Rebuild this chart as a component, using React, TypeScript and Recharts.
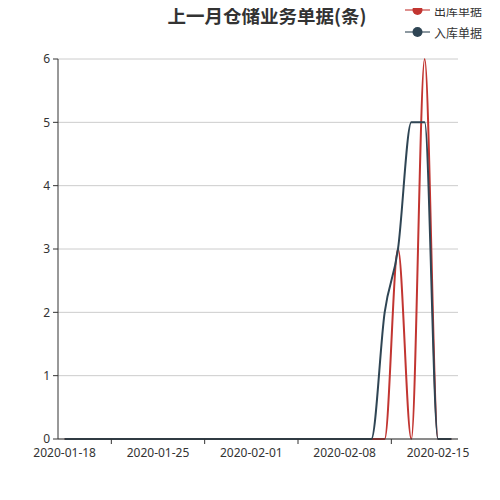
import { LineChart, Line, XAxis, YAxis, CartesianGrid } from "recharts"

const DATES = [
  "2020-01-18", "2020-01-19", "2020-01-20", "2020-01-21", "2020-01-22",
  "2020-01-23", "2020-01-24", "2020-01-25", "2020-01-26", "2020-01-27",
  "2020-01-28", "2020-01-29", "2020-01-30", "2020-01-31", "2020-02-01",
  "2020-02-02", "2020-02-03", "2020-02-04", "2020-02-05", "2020-02-06",
  "2020-02-07", "2020-02-08", "2020-02-09", "2020-02-10", "2020-02-11",
  "2020-02-12", "2020-02-13", "2020-02-14", "2020-02-15", "2020-02-16",
]

// 出库单据
const OUTBOUND = [
  0, 0, 0, 0, 0, 0, 0, 0, 0, 0,
  0, 0, 0, 0, 0, 0, 0, 0, 0, 0,
  0, 0, 0, 0, 0, 3, 0, 6, 0, 0,
]

// 入库单据
const INBOUND = [
  0, 0, 0, 0, 0, 0, 0, 0, 0, 0,
  0, 0, 0, 0, 0, 0, 0, 0, 0, 0,
  0, 0, 0, 0, 2, 3, 5, 5, 0, 0,
]

const Y_TICKS = [0, 1, 2, 3, 4, 5, 6]

const SERIES = [
  { name: "出库单据", color: "#c23531" },
  { name: "入库单据", color: "#2f4554" },
]

const FONT = "'Noto Sans', 'Noto Sans CJK SC', sans-serif"

const PLOT_W = 400
const STEP = PLOT_W / DATES.length

const data = DATES.map((d, i) => ({
  date: d,
  "出库单据": OUTBOUND[i],
  "入库单据": INBOUND[i],
}))

function DateTick(props: any) {
  const { x, y, payload } = props
  const idx = DATES.indexOf(payload.value)
  const showMark = idx < DATES.length - 2
  return (
    <g>
      {showMark && (
        <line x1={x + STEP * 3.5} x2={x + STEP * 3.5} y1={y - 5} y2={y} stroke="#333" />
      )}
      <text x={x} y={y + 13} textAnchor="middle" fill="#333" fontSize={12} fontFamily={FONT}>
        {payload.value}
      </text>
    </g>
  )
}

function LegendBox() {
  return (
    <div style={{ position: "absolute", left: 397, top: -1, fontFamily: FONT }}>
      {SERIES.map((s) => (
        <div key={s.name} style={{ display: "flex", alignItems: "center", height: 22 }}>
          <svg width={25} height={14}>
            <line x1={0} x2={25} y1={7} y2={7} stroke={s.color} strokeOpacity={0.55} strokeWidth={2} />
            <circle cx={12.5} cy={7} r={5} fill={s.color} />
          </svg>
          <span style={{ marginLeft: 4, fontSize: 12, color: "#333", fontFamily: "'Noto Sans CJK SC', sans-serif" }}>
            {s.name}
          </span>
        </div>
      ))}
    </div>
  )
}

export default function App() {
  return (
    <div style={{ position: "relative", margin: -8, width: 500, height: 500, background: "#f3f4f9", overflow: "hidden" }}>
      <div style={{ position: "absolute", left: 8, top: 0, width: 500, height: 498, background: "#fff", borderRadius: 6 }}>
        <div
          style={{
            position: "absolute",
            left: 259,
            top: 4,
            transform: "translateX(-50%)",
            whiteSpace: "nowrap",
            fontFamily: "'Noto Sans CJK SC', sans-serif",
            fontWeight: "bold",
            fontSize: 18.5,
            lineHeight: "22px",
            color: "#333",
          }}
        >
          上一月仓储业务单据(条)
        </div>
        <LegendBox />
        <LineChart width={492} height={498} data={data} margin={{ top: 59, right: 42, bottom: 0, left: 0 }}>
          <CartesianGrid vertical={false} stroke="#ccc" />
          <XAxis
            dataKey="date"
            height={59}
            interval={6}
            padding={{ left: STEP / 2, right: STEP / 2 }}
            axisLine={{ stroke: "#333" }}
            tickLine={false}
            tickSize={5}
            tickMargin={0}
            tick={<DateTick />}
          />
          <YAxis
            width={50}
            domain={[0, 6]}
            ticks={Y_TICKS}
            axisLine={{ stroke: "#333" }}
            tickLine={{ stroke: "#333" }}
            tickSize={5}
            tickMargin={3}
            tick={{ fill: "#333", fontSize: 12, fontFamily: FONT }}
          />
          <Line
            type="monotone"
            dataKey="出库单据"
            stroke={SERIES[0].color}
            strokeWidth={2}
            dot={false}
            isAnimationActive={false}
          />
          <Line
            type="monotone"
            dataKey="入库单据"
            stroke={SERIES[1].color}
            strokeWidth={2}
            dot={false}
            isAnimationActive={false}
          />
        </LineChart>
      </div>
    </div>
  )
}
